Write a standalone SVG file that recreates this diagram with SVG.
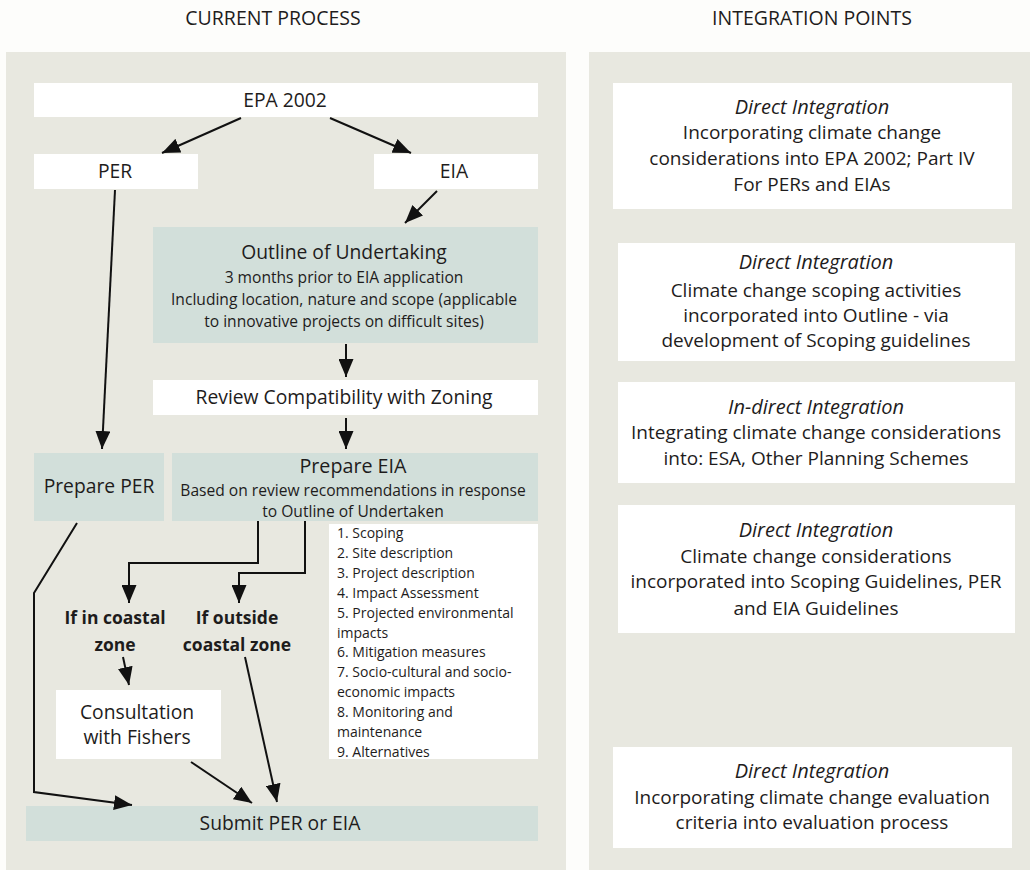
<svg xmlns="http://www.w3.org/2000/svg" width="1030" height="870" viewBox="0 0 1030 870">
<style>
text{font-family:"Open Sans","Liberation Sans",sans-serif;fill:#1e1c1c;text-anchor:middle}
.panel{fill:#e8e8e0}
.w{fill:#ffffff}
.t{fill:#d2dfda}
.title{font-size:19.5px}
.big{font-size:19.3px}
.med{font-size:15.6px}
.rp{font-size:19px}
.it{font-style:italic;font-size:20px}
.b{font-weight:bold;font-size:17.5px}
.list{font-size:14px;text-anchor:start}
.c path{fill:none;stroke:#111;stroke-width:2;marker-end:url(#ah)}
</style>
<defs>
<marker id="ah" viewBox="0 0 18 15" refX="18" refY="7.5" markerWidth="18" markerHeight="15" markerUnits="userSpaceOnUse" orient="auto">
<path d="M0,0 L18,7.5 L0,15 z" fill="#111"/>
</marker>
</defs>
<rect width="1030" height="870" fill="#fdfdfb"/>
<text class="title" x="273" y="25">CURRENT PROCESS</text>
<text class="title" x="812" y="25">INTEGRATION POINTS</text>
<rect class="panel" x="6" y="52" width="560" height="818"/>
<rect class="panel" x="589" y="52" width="441" height="818"/>

<g id="epa"><rect class="w" x="34" y="83" width="504" height="34"/><text class="big" x="285" y="107">EPA 2002</text></g>
<g id="per"><rect class="w" x="34" y="154" width="164" height="35"/><text class="big" x="115" y="178">PER</text></g>
<g id="eia"><rect class="w" x="374" y="154" width="164" height="35"/><text class="big" x="454" y="178">EIA</text></g>
<g id="outline"><rect class="t" x="153" y="227" width="385" height="116"/>
<text class="big" x="344" y="259">Outline of Undertaking</text>
<text class="med" x="344" y="283">3 months prior to EIA application</text>
<text class="med" x="344" y="305">Including location, nature and scope (applicable</text>
<text class="med" x="344" y="327">to innovative projects on difficult sites)</text></g>
<g id="review"><rect class="w" x="153" y="380" width="385" height="35"/><text class="big" x="344" y="404">Review Compatibility with Zoning</text></g>
<g id="prepper"><rect class="t" x="34" y="453" width="130" height="68"/><text class="big" x="99" y="493">Prepare PER</text></g>
<g id="prepeia"><rect class="t" x="172" y="453" width="366" height="68"/>
<text class="big" x="353" y="473" style="font-size:19.7px">Prepare EIA</text>
<text class="med" x="353" y="496">Based on review recommendations in response</text>
<text class="med" x="353" y="517">to Outline of Undertaken</text></g>
<g id="list"><rect class="w" x="329" y="524" width="209" height="235"/>
<text class="list" x="337" y="538">1. Scoping</text>
<text class="list" x="337" y="558">2. Site description</text>
<text class="list" x="337" y="578">3. Project description</text>
<text class="list" x="337" y="598">4. Impact Assessment</text>
<text class="list" x="337" y="618">5. Projected environmental</text>
<text class="list" x="337" y="638">impacts</text>
<text class="list" x="337" y="657">6. Mitigation measures</text>
<text class="list" x="337" y="677">7. Socio-cultural and socio-</text>
<text class="list" x="337" y="697">economic impacts</text>
<text class="list" x="337" y="717">8. Monitoring and</text>
<text class="list" x="337" y="737">maintenance</text>
<text class="list" x="337" y="757">9. Alternatives</text></g>
<g id="incoastal"><text class="b" x="115" y="624">If in coastal</text><text class="b" x="115" y="651">zone</text></g>
<g id="outside"><text class="b" x="237" y="624">If outside</text><text class="b" x="237" y="651">coastal zone</text></g>
<g id="consult"><rect class="w" x="56" y="690" width="165" height="69"/><text class="big" x="137" y="719">Consultation</text><text class="big" x="137" y="744">with Fishers</text></g>
<g id="submit"><rect class="t" x="26" y="806" width="512" height="35"/><text class="big" x="280" y="830">Submit PER or EIA</text></g>

<g id="ip1"><rect class="w" x="613" y="83" width="399" height="126"/>
<text class="it" x="812" y="114">Direct Integration</text>
<text class="rp" x="812" y="139">Incorporating climate change</text>
<text class="rp" x="812" y="165">considerations into EPA 2002; Part IV</text>
<text class="rp" x="812" y="191">For PERs and EIAs</text></g>
<g id="ip2"><rect class="w" x="618" y="243" width="397" height="118"/>
<text class="it" x="816" y="269">Direct Integration</text>
<text class="rp" x="816" y="297">Climate change scoping activities</text>
<text class="rp" x="816" y="322">incorporated into Outline - via</text>
<text class="rp" x="816" y="347">development of Scoping guidelines</text></g>
<g id="ip3"><rect class="w" x="618" y="382" width="397" height="101"/>
<text class="it" x="816" y="414">In-direct Integration</text>
<text class="rp" x="816" y="439">Integrating climate change considerations</text>
<text class="rp" x="816" y="465">into: ESA, Other Planning Schemes</text></g>
<g id="ip4"><rect class="w" x="618" y="505" width="397" height="128"/>
<text class="it" x="816" y="537">Direct Integration</text>
<text class="rp" x="816" y="563">Climate change considerations</text>
<text class="rp" x="816" y="588">incorporated into Scoping Guidelines, PER</text>
<text class="rp" x="816" y="615">and EIA Guidelines</text></g>
<g id="ip5"><rect class="w" x="613" y="747" width="399" height="101"/>
<text class="it" x="812" y="778">Direct Integration</text>
<text class="rp" x="812" y="804">Incorporating climate change evaluation</text>
<text class="rp" x="812" y="829">criteria into evaluation process</text></g>

<g id="connectors" class="c">
<path d="M241,118 L162,153"/>
<path d="M330,118 L411,153"/>
<path d="M437,191 L405,223"/>
<path d="M115,190 L102,449"/>
<path d="M346,344 L346,377"/>
<path d="M346,418 L346,449"/>
<path d="M258,521 V563 H129 V603"/>
<path d="M305,521 V573 H239 V603"/>
<path d="M77,523 L34,593 V792 L132,805"/>
<path d="M123,657 L129,685"/>
<path d="M245,657 L277,802"/>
<path d="M191,762 L252,803"/>
</g>
</svg>
